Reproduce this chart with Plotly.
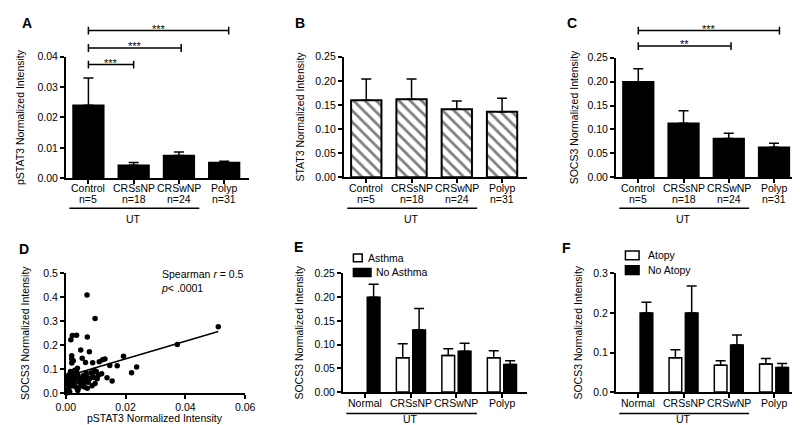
import plotly.graph_objects as go
import numpy as np

W, H = 800, 425
def px(x): return x / W
def py(y): return 1 - y / H

FONT = "Liberation Sans Narrow, Arial Narrow, Liberation Sans, Arial, sans-serif"
BOLDFONT = "Liberation Sans, Arial, sans-serif"

# ---------------- data ----------------
CATS = ["Control", "CRSsNP", "CRSwNP", "Polyp"]
N_LABELS = ["n=5", "n=18", "n=24", "n=31"]
GROUPS = ["Normal", "CRSsNP", "CRSwNP", "Polyp"]

PSTAT3_MEAN = [0.0240, 0.0043, 0.0075, 0.0052]
PSTAT3_SEM = [0.0090, 0.0009, 0.0011, 0.0004]
STAT3_MEAN = [0.160, 0.162, 0.141, 0.136]
STAT3_SEM = [0.044, 0.042, 0.017, 0.028]
SOCS3_MEAN = [0.200, 0.113, 0.081, 0.063]
SOCS3_SEM = [0.027, 0.026, 0.011, 0.008]

ASTHMA_MEAN = [None, 0.072, 0.077, 0.072]
ASTHMA_SEM = [0, 0.030, 0.014, 0.015]
NOASTHMA_MEAN = [0.200, 0.131, 0.086, 0.058]
NOASTHMA_SEM = [0.027, 0.045, 0.017, 0.008]
ATOPY_MEAN = [None, 0.087, 0.068, 0.071]
ATOPY_SEM = [0, 0.020, 0.011, 0.014]
NOATOPY_MEAN = [0.200, 0.200, 0.119, 0.062]
NOATOPY_SEM = [0.027, 0.068, 0.025, 0.010]

SCATTER_PSTAT3 = [
    0.0071, 0.0098, 0.0022, 0.0036, 0.0017, 0.0072, 0.0050, 0.0079, 0.0020, 0.0020,
    0.0025, 0.0055, 0.0066, 0.0090, 0.0112, 0.0123, 0.0131, 0.0193, 0.0172, 0.0147,
    0.0155, 0.0220, 0.0237, 0.0138, 0.0373, 0.0510, 0.0039, 0.0020,
    0.0005, 0.0010, 0.0008, 0.0012, 0.0015, 0.0020, 0.0025, 0.0010, 0.0018, 0.0022,
    0.0030, 0.0035, 0.0040, 0.0028, 0.0033, 0.0040, 0.0045, 0.0050, 0.0055, 0.0060,
    0.0065, 0.0070, 0.0075, 0.0080, 0.0085, 0.0090, 0.0095, 0.0098, 0.0105, 0.0110,
    0.0120, 0.0062, 0.0072, 0.0052, 0.0016, 0.0024, 0.0030, 0.0008, 0.0004, 0.0042,
    0.0068, 0.0088, 0.0102, 0.0058, 0.0036, 0.0003, 0.0013, 0.0094,
]
SCATTER_SOCS3 = [
    0.410, 0.312, 0.240, 0.242, 0.223, 0.234, 0.180, 0.173, 0.156, 0.142,
    0.135, 0.145, 0.128, 0.126, 0.131, 0.139, 0.142, 0.154, 0.114, 0.115,
    0.050, 0.085, 0.109, 0.064, 0.203, 0.277, 0.104, 0.125,
    0.010, 0.020, 0.035, 0.050, 0.060, 0.070, 0.080, 0.075, 0.045, 0.030,
    0.055, 0.065, 0.075, 0.040, 0.025, 0.010, 0.045, 0.060, 0.050, 0.035,
    0.055, 0.070, 0.045, 0.060, 0.085, 0.075, 0.095, 0.040, 0.060, 0.075,
    0.080, 0.025, 0.020, 0.030, 0.090, 0.085, 0.095, 0.065, 0.045, 0.020,
    0.085, 0.030, 0.090, 0.072, 0.088, 0.000, 0.005, 0.065,
]
FIT_SLOPE = 3.69
FIT_INTERCEPT = 0.069
FIT_X = [0.0, 0.051]

# ---------------- layout geometry ----------------
XR = [-0.5, 3.55]
POS = [0, 1, 2, 3]

fig = go.Figure()

err = lambda arr: dict(type="data", array=arr, arrayminus=[0] * len(arr), symmetric=False,
                       color="black", thickness=1.5, width=5)

# A
fig.add_trace(go.Bar(x=POS, y=PSTAT3_MEAN, width=0.68, error_y=err(PSTAT3_SEM),
                     marker=dict(color="black", line=dict(color="black", width=1.5)),
                     xaxis="x", yaxis="y", showlegend=False))
# B
fig.add_trace(go.Bar(x=POS, y=STAT3_MEAN, width=0.67, error_y=err(STAT3_SEM),
                     marker=dict(color="white", line=dict(color="black", width=2),
                                 pattern=dict(shape="\\", fgcolor="black", bgcolor="white",
                                              size=8, solidity=0.35)),
                     xaxis="x2", yaxis="y2", showlegend=False))
# C
fig.add_trace(go.Bar(x=POS, y=SOCS3_MEAN, width=0.68, error_y=err(SOCS3_SEM),
                     marker=dict(color="black", line=dict(color="black", width=1.5)),
                     xaxis="x3", yaxis="y3", showlegend=False))
# D
fig.add_trace(go.Scatter(x=SCATTER_PSTAT3, y=SCATTER_SOCS3, mode="markers",
                         marker=dict(color="black", size=5.5), cliponaxis=False,
                         xaxis="x4", yaxis="y4", showlegend=False))
fx = np.array(FIT_X)
fig.add_trace(go.Scatter(x=fx, y=FIT_SLOPE * fx + FIT_INTERCEPT, mode="lines",
                         line=dict(color="black", width=1.5),
                         xaxis="x4", yaxis="y4", showlegend=False))
# E
fig.add_trace(go.Bar(x=POS, y=ASTHMA_MEAN, width=0.28, offset=-0.32, error_y=err(ASTHMA_SEM),
                     marker=dict(color="white", line=dict(color="black", width=1.5)),
                     xaxis="x5", yaxis="y5", showlegend=False))
fig.add_trace(go.Bar(x=POS, y=NOASTHMA_MEAN, width=0.28, offset=0.04, error_y=err(NOASTHMA_SEM),
                     marker=dict(color="black", line=dict(color="black", width=1.5)),
                     xaxis="x5", yaxis="y5", showlegend=False))
# F
fig.add_trace(go.Bar(x=POS, y=ATOPY_MEAN, width=0.28, offset=-0.32, error_y=err(ATOPY_SEM),
                     marker=dict(color="white", line=dict(color="black", width=1.5)),
                     xaxis="x6", yaxis="y6", showlegend=False))
fig.add_trace(go.Bar(x=POS, y=NOATOPY_MEAN, width=0.28, offset=0.04, error_y=err(NOATOPY_SEM),
                     marker=dict(color="black", line=dict(color="black", width=1.5)),
                     xaxis="x6", yaxis="y6", showlegend=False))

common = dict(showline=True, linecolor="black", linewidth=1.5, ticks="outside", ticklen=4,
              tickwidth=1.5, tickcolor="black", showgrid=False, zeroline=False,
              tickfont=dict(size=10.5, family=FONT, color="black"))
tfont = dict(size=10.5, family=FONT, color="black")

def xcat(dom, anchor, rng=XR):
    d = dict(common)
    d.update(domain=[px(dom[0]), min(1.0, px(dom[1]))], range=rng, tickvals=POS,
             showticklabels=False, anchor=anchor, fixedrange=True)
    return d

def yax(dom, rng, dtick, fmt, anchor, title, standoff):
    d = dict(common)
    d.update(domain=[py(dom[1]), py(dom[0])], range=rng, dtick=dtick, tickformat=fmt,
             anchor=anchor, title=dict(text=title, font=tfont, standoff=standoff))
    return d

fig.update_layout(
    width=W, height=H, margin=dict(l=0, r=0, t=0, b=0),
    paper_bgcolor="white", plot_bgcolor="white", barmode="overlay",
    xaxis=xcat((49, 237), "y"),
    yaxis=yax((44, 169), [0, 0.04], 0.01, ".2f", "x", "pSTAT3 Normalized Intensity", 11),
    xaxis2=xcat((334, 522), "y2"),
    yaxis2=yax((44, 168), [0, 0.25], 0.05, ".2f", "x2", "STAT3 Normalized Intensity", 9),
    xaxis3=xcat((613, 800), "y3", [-0.5, 3.53]),
    yaxis3=yax((45, 168), [0, 0.25], 0.05, ".2f", "x3", "SOCS3 Normalized Intensity", 7),
    xaxis4=dict(common, domain=[px(49), px(233)], range=[0, 0.06], dtick=0.02, tickformat=".2f",
                anchor="y4"),
    yaxis4=yax((267, 390), [0, 0.5], 0.1, ".1f", "x4", "SOCS3 Normalized Intensity", 12),
    xaxis5=xcat((333, 522), "y5"),
    yaxis5=yax((267, 389), [0, 0.25], 0.05, ".2f", "x5", "SOCS3 Normalized Intensity", 9),
    xaxis6=xcat((613, 800), "y6", [-0.5, 3.53]),
    yaxis6=yax((267, 389), [0, 0.3], 0.1, ".1f", "x6", "SOCS3 Normalized Intensity", 9),
)

shapes = []
annos = []

def text(xref, x, ypx, t, xanchor="center", font=tfont, align="center"):
    annos.append(dict(xref=xref, yref="paper", x=x, y=py(ypx), text=t, showarrow=False,
                      xanchor=xanchor, yanchor="middle", font=font, align=align))

def line(xref, x0, x1, y0, y1, yref="paper"):
    shapes.append(dict(type="line", xref=xref, yref=yref, x0=x0, x1=x1, y0=y0, y1=y1,
                       line=dict(color="black", width=1.5)))

def bracket(xref, x0, x1, ypx, stars):
    line(xref, x0, x1, py(ypx), py(ypx))
    line(xref, x0, x0, py(ypx - 4), py(ypx + 4))
    line(xref, x1, x1, py(ypx - 4), py(ypx + 4))
    text(xref, (x0 + x1) / 2, ypx - 2, stars, font=dict(size=11, family=BOLDFONT, color="black"))

# category labels
for xr in ["x", "x2", "x3"]:
    for i, (c, n) in enumerate(zip(CATS, N_LABELS)):
        text(xr, POS[i], 179, c)
        text(xr, POS[i], 190, n)
for xr in ["x5", "x6"]:
    for i, g in enumerate(GROUPS):
        text(xr, POS[i], 400, g)

# D x-axis title
text("paper", px(141), 416, "pSTAT3 Normalized Intensity")

# significance brackets
bracket("x", 0, 3.1, 17, "***")
bracket("x", 0, 2.05, 35, "***")
bracket("x", 0, 1.0, 52, "***")
bracket("x3", 0, 3.12, 17, "***")
bracket("x3", 0, 2.05, 33, "**")

# UT group lines
for xr, ly, ty in [("x", 200, 211), ("x2", 200, 211), ("x3", 200, 211), ("x5", 411, 417), ("x6", 411, 417)]:
    line(xr, -0.42, 2.45, py(ly), py(ly))
    text(xr, 1.0, ty, "UT")

# panel letters
for lt, x, y in [("A", 9, 9), ("B", 289, 9), ("C", 568, 9), ("D", 6, 242), ("E", 288, 240), ("F", 563, 241)]:
    text("paper", px(x), y, f"<b>{lt}</b>", font=dict(size=14, family=BOLDFONT, color="black"))

# Spearman text
text("paper", px(145), 275, "Spearman <i>r</i> = 0.5<br><i>p</i>< .0001", xanchor="left", align="left")

# legends E and F
def legbox(x0, x1, y0, y1, fill):
    shapes.append(dict(type="rect", xref="paper", yref="paper", x0=px(x0), x1=px(x1),
                       y0=py(y1), y1=py(y0), fillcolor=fill, line=dict(color="black", width=1.5)))

legbox(344, 353, 247, 255, "white"); text("paper", px(357), 251, "Asthma", xanchor="left")
legbox(344, 362, 262, 270, "black"); text("paper", px(365), 266, "No Asthma", xanchor="left")
legbox(623, 637, 244, 253, "white"); text("paper", px(644), 248, "Atopy", xanchor="left")
legbox(623, 637, 259, 268, "black"); text("paper", px(644), 263, "No Atopy", xanchor="left")

fig.update_layout(shapes=shapes, annotations=annos)
fig.write_html("out.html")
